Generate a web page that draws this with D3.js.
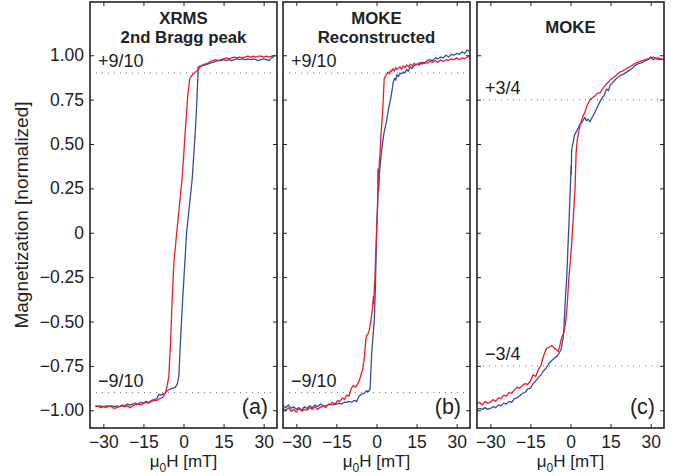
<!DOCTYPE html>
<html>
<head>
<meta charset="utf-8">
<script src="https://cdn.jsdelivr.net/npm/d3@7"></script>
<style>
  body { margin: 0; background: #fff; }
  text { font-family: "Liberation Sans", Arial, Helvetica, sans-serif; fill: #222; }
</style>
</head>
<body>
<svg id="chart" width="679" height="476"></svg>
<script>

// ---- data: [field mT, magnetization] ----
var aRed = [[-33,-0.975],[-32,-0.98],[-31,-0.975],[-30,-0.98],[-29,-0.985],[-28,-0.975],[-27,-0.98],[-26,-0.99],[-25,-0.985],[-24,-0.98],[-23,-0.975],[-22,-0.98],[-21,-0.975],[-20,-0.985],[-19,-0.975],[-18,-0.97],[-17,-0.965],[-16,-0.97],[-15,-0.96],[-14,-0.955],[-13,-0.96],[-12,-0.95],[-11,-0.945],[-10,-0.945],[-9,-0.935],[-8,-0.93],[-7.4,-0.92],[-6.6,-0.895],[-6.1,-0.86],[-5.5,-0.81],[-4.9,-0.64],[-4.2,-0.36],[-3.6,-0.17],[-2.6,-0.01],[-0.5,0.31],[0.75,0.59],[1.6,0.775],[2.4,0.87],[3.3,0.89],[4.5,0.906],[6.1,0.93],[7,0.945],[8,0.95],[9,0.955],[10,0.965],[11,0.97],[12,0.975],[13,0.97],[14,0.975],[15,0.98],[16,0.985],[17,0.98],[18,0.985],[19,0.99],[20,0.985],[21,0.99],[22,0.985],[23,0.99],[24,0.995],[25,0.99],[26,0.995],[27,0.99],[28,0.995],[29,0.995],[30,0.99],[31,0.995],[32,0.99],[33,0.995],[34,1.0]];

var aBlue = [[-33,-0.98],[-32,-0.975],[-31,-0.985],[-30,-0.98],[-29,-0.975],[-28,-0.98],[-27,-0.975],[-26,-0.98],[-25,-0.975],[-24,-0.98],[-23,-0.97],[-22,-0.975],[-21,-0.965],[-20,-0.97],[-19,-0.965],[-18,-0.96],[-17,-0.965],[-16,-0.955],[-15,-0.96],[-14,-0.95],[-13,-0.955],[-12,-0.945],[-11,-0.94],[-10,-0.935],[-9.2,-0.91],[-8.6,-0.915],[-7,-0.905],[-6.1,-0.89],[-4.9,-0.88],[-3,-0.87],[-2.3,-0.85],[-1.75,-0.81],[-1.1,-0.6],[-0.25,-0.36],[0.5,-0.17],[1.1,-0.01],[3.3,0.31],[4.5,0.59],[5.1,0.77],[5.5,0.935],[6.5,0.94],[8,0.945],[9,0.95],[10,0.955],[11,0.96],[12,0.965],[13,0.97],[14,0.97],[15,0.975],[16,0.97],[17,0.975],[18,0.97],[19,0.975],[20,0.98],[21,0.975],[22,0.98],[23,0.975],[24,0.98],[25,0.975],[26,0.98],[27,0.975],[28,0.97],[29,0.975],[30,0.98],[31,0.975],[32,0.97],[33,0.985],[34,0.995]];

var bRed = [[-35,-0.99],[-34,-1.0],[-33,-0.985],[-32,-1.005],[-31,-0.995],[-30,-1.01],[-29,-0.99],[-28,-1.005],[-27,-0.995],[-26,-1.0],[-25,-0.985],[-24,-0.995],[-23,-0.98],[-22,-0.995],[-21.2,-0.985],[-20,-0.975],[-19,-0.985],[-18,-0.965],[-17.4,-0.97],[-16.5,-0.955],[-15.5,-0.965],[-14.5,-0.945],[-13.7,-0.95],[-12.8,-0.93],[-12,-0.94],[-11.2,-0.915],[-10.3,-0.92],[-9.5,-0.88],[-8.7,-0.86],[-7.8,-0.87],[-7,-0.85],[-6.4,-0.83],[-5.8,-0.8],[-5.2,-0.77],[-4.7,-0.72],[-4.3,-0.66],[-4.0,-0.6],[-3.7,-0.58],[-3.2,-0.57],[-2.7,-0.55],[-2.2,-0.5],[-1.8,-0.46],[-1.5,-0.42],[-1.2,-0.36],[-1.0,-0.4],[-0.8,-0.3],[-0.6,-0.26],[-0.3,-0.12],[0.07,0.02],[0.4,0.15],[0.7,0.28],[1.0,0.38],[1.3,0.44],[1.8,0.58],[2.3,0.68],[2.6,0.78],[2.9,0.87],[3.3,0.88],[3.8,0.89],[4.3,0.905],[4.8,0.895],[5.3,0.915],[5.7,0.91],[6.2,0.925],[6.7,0.91],[7.2,0.93],[7.7,0.92],[8.2,0.925],[8.8,0.935],[9.4,0.92],[10,0.94],[10.6,0.93],[11.3,0.945],[12,0.935],[12.7,0.95],[13.4,0.94],[14.1,0.955],[14.8,0.945],[15.5,0.95],[16.3,0.96],[17,0.95],[18,0.96],[19,0.955],[20,0.965],[21,0.96],[22,0.97],[23,0.96],[24,0.975],[25,0.965],[26,0.975],[27,0.97],[28,0.98],[29,0.975],[30,0.985],[31,0.975],[32,0.985],[33,0.98],[34,0.99],[35,0.995]];

var bBlue = [[-35,-0.975],[-34,-0.985],[-33,-0.97],[-32,-0.99],[-31,-0.98],[-30,-0.995],[-29,-0.985],[-28,-1.0],[-27,-0.98],[-26,-0.99],[-25,-0.975],[-24,-0.985],[-23,-0.97],[-22,-0.98],[-21,-0.965],[-20,-0.975],[-18.7,-0.975],[-17.5,-0.965],[-16.5,-0.97],[-15,-0.966],[-14,-0.96],[-13,-0.965],[-12,-0.955],[-11.2,-0.956],[-10.3,-0.95],[-9.4,-0.955],[-8.4,-0.945],[-7.4,-0.95],[-6.5,-0.92],[-5.6,-0.91],[-4.7,-0.905],[-3.7,-0.89],[-3,-0.895],[-2.4,-0.88],[-2.1,-0.78],[-1.8,-0.68],[-1.3,-0.58],[-0.8,-0.49],[-0.4,-0.3],[-0.1,-0.1],[0.07,0.02],[0.3,0.1],[0.5,0.22],[0.55,0.36],[0.7,0.35],[0.8,0.24],[1.1,0.33],[1.5,0.4],[1.9,0.46],[2.4,0.52],[2.9,0.57],[3.8,0.63],[4.4,0.69],[5.1,0.74],[5.6,0.78],[6.0,0.82],[6.3,0.85],[6.8,0.87],[7.2,0.86],[7.6,0.89],[8.2,0.88],[8.8,0.9],[9.4,0.895],[10,0.906],[10.6,0.9],[11.3,0.92],[11.9,0.91],[12.6,0.935],[13.3,0.925],[14,0.94],[15,0.95],[16,0.945],[17,0.96],[18,0.955],[19,0.97],[20,0.975],[21,0.97],[22,0.985],[23,0.98],[24,0.99],[25,0.985],[26,1.0],[27,0.99],[28,1.005],[29,1.0],[30,1.01],[31,1.005],[32,1.02],[33,1.01],[34,1.03],[35,1.02]];

var cRed = [[-35,-0.965],[-34,-0.955],[-33,-0.97],[-32,-0.95],[-31,-0.96],[-30,-0.955],[-29,-0.94],[-28,-0.95],[-27,-0.93],[-26,-0.935],[-25,-0.915],[-24,-0.92],[-23,-0.9],[-22,-0.905],[-21,-0.885],[-20,-0.87],[-19,-0.875],[-18,-0.86],[-17,-0.85],[-16,-0.855],[-15,-0.835],[-14,-0.8],[-13,-0.81],[-12,-0.77],[-11,-0.745],[-10.2,-0.7],[-9.5,-0.67],[-8.9,-0.65],[-8,-0.645],[-7,-0.635],[-6,-0.65],[-5.2,-0.66],[-4.6,-0.67],[-3.9,-0.63],[-3.3,-0.59],[-2.4,-0.56],[-1.8,-0.5],[-1.2,-0.4],[-0.6,-0.25],[0,-0.15],[0.4,-0.07],[1.1,0.1],[1.7,0.25],[2.1,0.45],[2.5,0.52],[3,0.56],[3.6,0.61],[4.5,0.65],[5.4,0.68],[6.3,0.72],[7.3,0.75],[8.2,0.76],[9.1,0.77],[10,0.785],[11.1,0.79],[12,0.81],[13,0.83],[13.9,0.845],[14.8,0.86],[15.7,0.87],[16.6,0.88],[17.6,0.895],[18.6,0.906],[19.5,0.91],[20.4,0.92],[21.4,0.93],[22.3,0.935],[23.3,0.945],[24.2,0.955],[25.1,0.96],[26,0.965],[27,0.97],[28,0.975],[29,0.98],[30,0.985],[31,0.99],[32,0.98],[33,0.985],[34,0.975],[35,0.98]];

var cBlue = [[-35,-0.995],[-34,-0.99],[-33,-0.995],[-32,-0.985],[-31,-0.995],[-30,-0.99],[-29,-0.98],[-28,-0.985],[-27,-0.97],[-26,-0.975],[-25,-0.96],[-24,-0.965],[-23,-0.95],[-22,-0.955],[-21,-0.935],[-20,-0.93],[-19,-0.92],[-18,-0.905],[-17,-0.9],[-16,-0.88],[-15,-0.875],[-14,-0.85],[-13,-0.835],[-12,-0.815],[-11,-0.8],[-10.2,-0.78],[-9,-0.76],[-8,-0.735],[-7,-0.72],[-6,-0.705],[-5,-0.695],[-4.3,-0.68],[-3.5,-0.655],[-2.7,-0.59],[-2.4,-0.52],[-2.1,-0.42],[-1.7,-0.32],[-1.4,-0.25],[-1,-0.1],[-0.56,0.06],[-0.2,0.2],[0.07,0.31],[0.2,0.38],[0.3,0.33],[0.4,0.46],[0.7,0.49],[1.05,0.51],[1.5,0.55],[2.2,0.57],[2.9,0.59],[3.5,0.61],[4.2,0.62],[4.8,0.635],[5.4,0.65],[6.0,0.63],[6.6,0.64],[7.3,0.625],[7.9,0.645],[8.5,0.66],[9.2,0.68],[9.8,0.7],[10.4,0.72],[11.1,0.74],[11.8,0.76],[12.5,0.77],[13.2,0.8],[13.6,0.81],[14.2,0.8],[14.8,0.83],[15.5,0.84],[16.3,0.855],[17.3,0.87],[18.2,0.88],[19.2,0.89],[20,0.895],[21,0.905],[22,0.915],[23,0.925],[24,0.94],[25,0.95],[26,0.955],[27,0.96],[28,0.97],[29,0.975],[30,0.99],[31,0.975],[32,0.985],[33,0.975],[34,0.98],[35,0.975]];

var xTicks = [-30, -15, 0, 15, 30];
var xTickLabels = ['\u221230', '\u221215', '0', '15', '30'];
var yTicks = [1, 0.75, 0.5, 0.25, 0, -0.25, -0.5, -0.75, -1];
var yTickLabels = ['1.00', '0.75', '0.50', '0.25', '0', '\u22120.25', '\u22120.50', '\u22120.75', '\u22121.00'];

var titles = [['XRMS', '2nd Bragg peak'], ['MOKE', 'Reconstructed'], ['MOKE']];
var refLevels = [0.9, 0.9, 0.75];
var refLabels = [['+9/10', '\u22129/10'], ['+9/10', '\u22129/10'], ['+3/4', '\u22123/4']];
var panelTags = ['(a)', '(b)', '(c)'];

// ---- layout ----
var plotTop = 2, plotBottom = 428;
var panelLeft = [90, 283, 477];
var panelW = 187;
var redCol = '#ec1c2a', blueCol = '#2f4fa6', ink = '#222';

var svg = d3.select('#chart');

var yScale = d3.scaleLinear().domain([-1.1, 1.3]).range([plotBottom, plotTop]);

var panels = [
  { red: aRed, blue: aBlue },
  { red: bRed, blue: bBlue },
  { red: cRed, blue: cBlue }
];

panels.forEach(function(p, i){

  var x0 = panelLeft[i];
  var xScale = d3.scaleLinear().domain([-35, 35]).range([x0, x0 + panelW]);

  var g = svg.append('g');

  // dotted reference levels
  [refLevels[i], -refLevels[i]].forEach(function(v){
    g.append('line')
      .attr('x1', x0).attr('x2', x0 + panelW)
      .attr('y1', yScale(v)).attr('y2', yScale(v))
      .attr('stroke', '#777').attr('stroke-width', 1)
      .attr('stroke-dasharray', '1,5');
  });

  var lineGen = d3.line()
    .x(function(d){ return xScale(d[0]); })
    .y(function(d){ return yScale(d[1]); });

  g.append('path').datum(p.blue)
    .attr('fill', 'none').attr('stroke', blueCol).attr('stroke-width', 1.3)
    .attr('stroke-linejoin', 'round').attr('d', lineGen);
  g.append('path').datum(p.red)
    .attr('fill', 'none').attr('stroke', redCol).attr('stroke-width', 1.3)
    .attr('stroke-linejoin', 'round').attr('d', lineGen);

  // axes: ticks inside on all four sides
  var bottomAx = g.append('g').attr('transform', 'translate(0,' + plotBottom + ')')
    .call(d3.axisBottom(xScale).tickValues(xTicks).tickSizeInner(-4).tickSizeOuter(0)
      .tickPadding(8).tickFormat(function(d, k){ return xTickLabels[k]; }));
  var topAx = g.append('g').attr('transform', 'translate(0,' + plotTop + ')')
    .call(d3.axisTop(xScale).tickValues(xTicks).tickSizeInner(-4).tickSizeOuter(0)
      .tickFormat(''));
  var leftAx = g.append('g').attr('transform', 'translate(' + x0 + ',0)')
    .call(d3.axisLeft(yScale).tickValues(yTicks).tickSizeInner(-4).tickSizeOuter(0)
      .tickPadding(6).tickFormat(function(d, k){ return i === 0 ? yTickLabels[k] : ''; }));
  var rightAx = g.append('g').attr('transform', 'translate(' + (x0 + panelW) + ',0)')
    .call(d3.axisRight(yScale).tickValues(yTicks).tickSizeInner(-4).tickSizeOuter(0)
      .tickFormat(''));

  [bottomAx, topAx, leftAx, rightAx].forEach(function(ax){
    ax.select('.domain').remove();
    ax.selectAll('line').attr('stroke', ink).attr('stroke-width', 1);
    ax.selectAll('text').style('font-size', '17.5px').attr('fill', ink)
      .style('font-family', '"Liberation Sans", Arial, sans-serif');
  });

  // frame
  g.append('rect')
    .attr('x', x0).attr('y', plotTop).attr('width', panelW).attr('height', plotBottom - plotTop)
    .attr('fill', 'none').attr('stroke', ink).attr('stroke-width', 1.6);

  // titles
  var t = titles[i];
  var cx = x0 + panelW / 2;
  t.forEach(function(s, k){
    g.append('text')
      .attr('x', cx)
      .attr('y', t.length === 1 ? 33 : 24 + k * 19)
      .attr('text-anchor', 'middle')
      .style('font-weight', 'bold').style('font-size', '16.8px')
      .text(s);
  });

  // reference labels
  g.append('text').attr('x', x0 + 8).attr('y', yScale(refLevels[i]) - 6)
    .style('font-size', '18px').text(refLabels[i][0]);
  g.append('text').attr('x', x0 + 8).attr('y', yScale(-refLevels[i]) - 6)
    .style('font-size', '18px').text(refLabels[i][1]);

  // panel tag
  g.append('text').attr('x', x0 + panelW - 9).attr('y', 414)
    .attr('text-anchor', 'end').style('font-size', '21.5px').text(panelTags[i]);

  // x label
  var xl = g.append('text').attr('x', cx).attr('y', 467)
    .attr('text-anchor', 'middle').style('font-size', '17px');
  xl.append('tspan').text('\u03bc');
  xl.append('tspan').attr('dy', 5).style('font-size', '12px').text('0');
  xl.append('tspan').attr('dy', -5).text('H [mT]');
});

// y label
svg.append('text')
  .attr('transform', 'translate(28,' + yScale(0.1) + ') rotate(-90)')
  .attr('text-anchor', 'middle').style('font-size', '19px')
  .text('Magnetization [normalized]');

</script>
</body>
</html>
